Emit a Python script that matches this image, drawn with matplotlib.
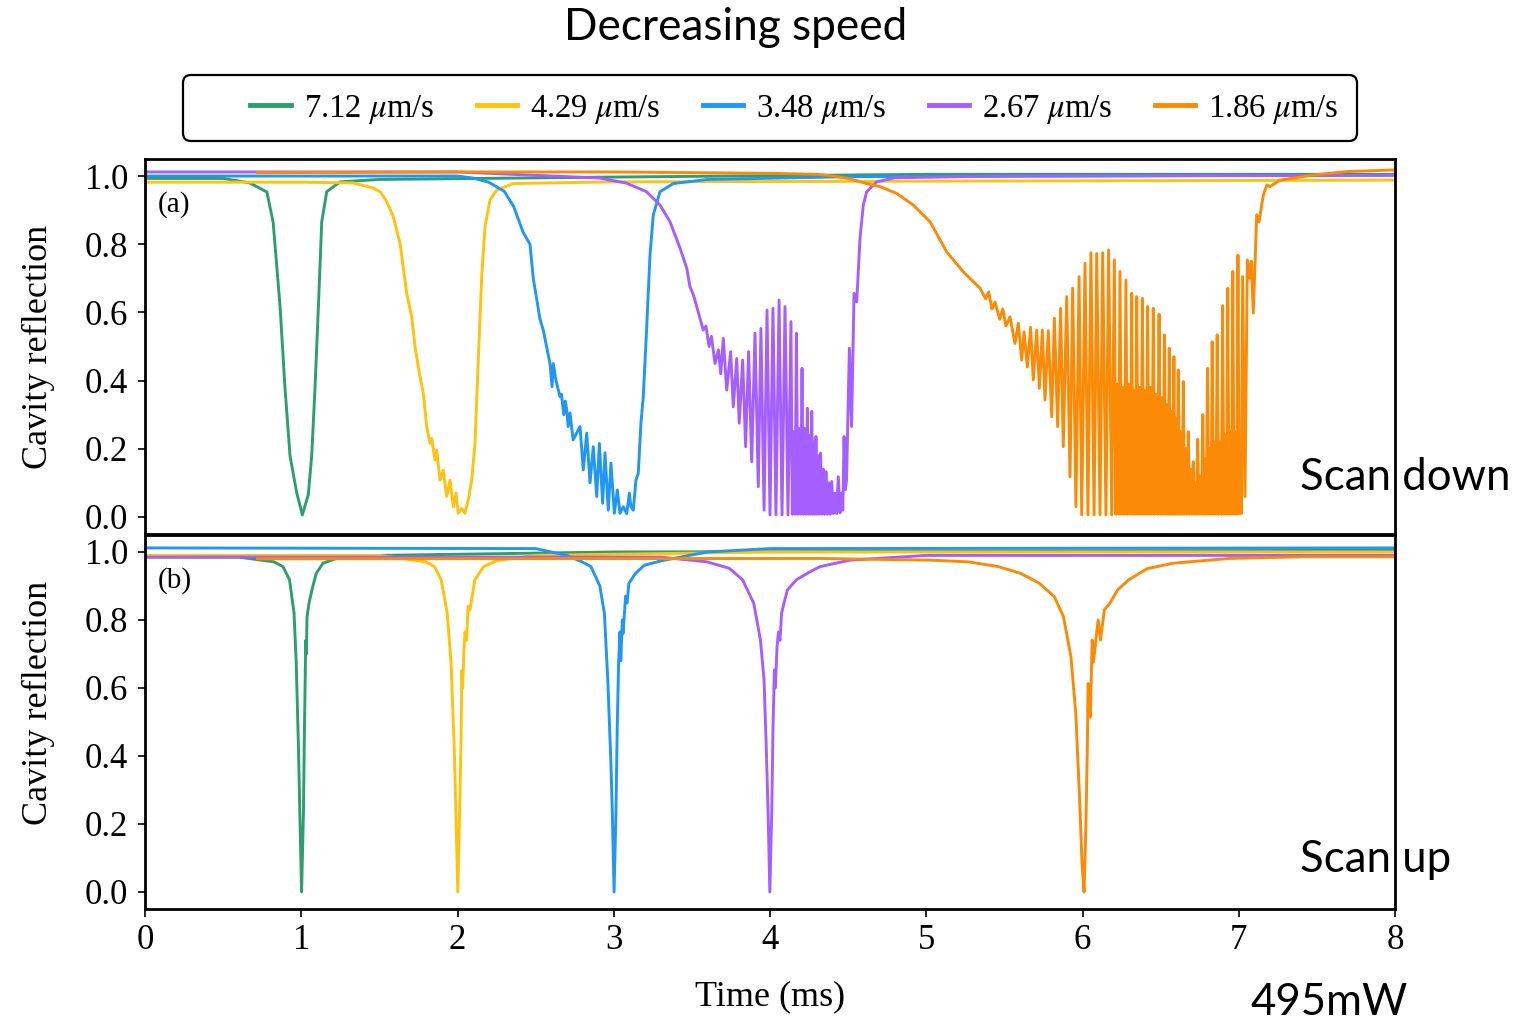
import matplotlib
matplotlib.use('Agg')
import matplotlib.pyplot as plt
from matplotlib.lines import Line2D
from matplotlib.patches import FancyBboxPatch
from matplotlib.transforms import IdentityTransform

plt.rcParams['mathtext.fontset'] = 'stix'
SERIF = 'Liberation Serif'
SANS = 'Lato'

# ---------------- data ----------------
speeds = ['7.12', '4.29', '3.48', '2.67', '1.86']
colors = ['#2E9E6E', '#FFC20E', '#2196F3', '#A55EFF', '#FB8A07']
x_ticks = [0, 1, 2, 3, 4, 5, 6, 7, 8]
y_ticks = [0.0, 0.2, 0.4, 0.6, 0.8, 1.0]
y_tick_labels = ['0.0', '0.2', '0.4', '0.6', '0.8', '1.0']

# ---- (a) scan down ----
down_green_t = [0, 0.5, 0.67, 0.78, 0.82, 0.864, 0.896, 0.928, 0.97, 1.007, 1.045, 1.067, 1.088, 1.11,
                1.131, 1.163, 1.248, 1.5, 3.0, 5.0, 8.0]
down_green_y = [0.993, 0.993, 0.98, 0.953, 0.865, 0.62, 0.378, 0.18, 0.073, 0.006, 0.065, 0.18, 0.378, 0.62,
                0.865, 0.954, 0.983, 0.99, 0.997, 1.005, 1.005]

down_yellow_t = [0, 1.0, 1.33, 1.46, 1.504, 1.547, 1.589, 1.632, 1.675, 1.707, 1.728, 1.76, 1.781, 1.803,
                 1.824, 1.835, 1.856, 1.867, 1.888, 1.909, 1.931, 1.952, 1.973, 1.99, 2.005, 2.027, 2.048,
                 2.069, 2.091, 2.112, 2.133, 2.155, 2.176, 2.208, 2.251, 2.357, 3.0, 8.0]
down_yellow_y = [0.982, 0.982, 0.98, 0.965, 0.954, 0.925, 0.881, 0.803, 0.656, 0.587, 0.5, 0.411, 0.363, 0.265,
                 0.216, 0.23, 0.167, 0.196, 0.108, 0.137, 0.06, 0.108, 0.03, 0.07, 0.011, 0.025, 0.011,
                 0.05, 0.108, 0.216, 0.46, 0.705, 0.851, 0.93, 0.959, 0.978, 0.983, 0.988]

down_blue_t = [0, 1.0, 2.0, 2.1, 2.2, 2.3, 2.36, 2.42, 2.464, 2.485, 2.528, 2.549, 2.57, 2.592, 2.605, 2.613,
               2.63, 2.656, 2.665, 2.68, 2.69, 2.699, 2.708, 2.72, 2.74, 2.784, 2.805, 2.827, 2.848, 2.869,
               2.891, 2.908, 2.929, 2.944, 2.965, 2.982, 3.004, 3.023, 3.04, 3.061, 3.083, 3.10, 3.11, 3.125,
               3.142, 3.157, 3.174, 3.189, 3.21, 3.232, 3.253, 3.296, 3.381, 3.6, 4.5, 8.0]
down_blue_y = [1.0, 1.0, 1.0, 0.994, 0.982, 0.955, 0.91, 0.835, 0.80, 0.70, 0.58, 0.548, 0.50, 0.45, 0.382, 0.45,
               0.40, 0.353, 0.36, 0.30, 0.34, 0.314, 0.265, 0.305, 0.226, 0.265, 0.138, 0.246, 0.10, 0.206,
               0.06, 0.216, 0.04, 0.188, 0.02, 0.158, 0.011, 0.079, 0.011, 0.03, 0.01, 0.07, 0.03, 0.02,
               0.108, 0.128, 0.275, 0.353, 0.548, 0.768, 0.886, 0.954, 0.978, 0.99, 0.998, 1.003]

down_purple_t = [0, 2.0, 2.912, 3.083, 3.21, 3.296, 3.36, 3.424, 3.467, 3.488, 3.51, 3.531, 3.573, 3.59, 3.61,
                 3.625, 3.648, 3.67, 3.685, 3.701, 3.723, 3.748, 3.765, 3.787, 3.803, 3.825, 3.844, 3.863,
                 3.883, 3.904, 3.925, 3.942, 3.962, 3.981, 4.0, 4.019, 4.038, 4.058, 4.077, 4.096, 4.115,
                 4.134, 4.143, 4.152, 4.160,
                 4.169, 4.178, 4.187, 4.196,
                 4.205, 4.213, 4.222, 4.230,
                 4.239, 4.246, 4.253, 4.260,
                 4.267, 4.274, 4.280, 4.287,
                 4.294, 4.301, 4.309, 4.316,
                 4.324, 4.332, 4.341, 4.350,
                 4.358, 4.367, 4.376, 4.386,
                 4.395, 4.405, 4.416, 4.426,
                 4.437, 4.448, 4.459, 4.466, 4.474, 4.482, 4.49, 4.508, 4.522, 4.538, 4.555, 4.576, 4.597,
                 4.619, 4.683, 4.8, 5.5, 8.0]
down_purple_y = [1.012, 1.012, 0.994, 0.979, 0.954, 0.915, 0.866, 0.789, 0.73, 0.675, 0.651, 0.617, 0.548, 0.56, 0.50,
                 0.53, 0.45, 0.49, 0.42, 0.524, 0.372, 0.485, 0.323, 0.465, 0.275, 0.46, 0.206, 0.485,
                 0.162, 0.539, 0.089, 0.553, 0.02, 0.607, 0.006, 0.612, 0.006, 0.636, 0.006, 0.617, 0.006,
                 0.573, 0.008, 0.25, 0.008,
                 0.539, 0.008, 0.26, 0.008,
                 0.436, 0.008, 0.26, 0.008,
                 0.319, 0.008, 0.24, 0.008,
                 0.310, 0.008, 0.22, 0.008,
                 0.236, 0.008, 0.18, 0.008,
                 0.187, 0.008, 0.14, 0.008,
                 0.133, 0.008, 0.10, 0.008,
                 0.104, 0.010, 0.07, 0.010,
                 0.118, 0.012, 0.07, 0.02, 0.236, 0.08, 0.109, 0.495, 0.265, 0.656, 0.631, 0.817, 0.915,
                 0.954, 0.983, 0.995, 1.0, 1.002]

down_orange_t = [0.72, 2.0, 3.0, 4.0, 4.3, 4.405, 4.5, 4.619, 4.704, 4.811, 4.917, 5.024, 5.13, 5.237, 5.344,
                 5.38, 5.40, 5.42, 5.44, 5.47, 5.49, 5.51,
                 5.536, 5.568, 5.589, 5.611, 5.626, 5.647, 5.668, 5.685, 5.707, 5.724, 5.743, 5.76, 5.781,
                 5.803, 5.82, 5.841, 5.86, 5.877, 5.899, 5.92, 5.937, 5.958, 5.978, 5.995, 6.016, 6.035,
                 6.054, 6.074, 6.091, 6.112, 6.129, 6.15, 6.167, 6.187,
                 6.204, 6.213, 6.222, 6.231,
                 6.240, 6.250, 6.259, 6.268,
                 6.278, 6.287, 6.296, 6.306,
                 6.315, 6.323, 6.331, 6.339,
                 6.347, 6.356, 6.365, 6.374,
                 6.383, 6.392, 6.400, 6.408,
                 6.417, 6.426, 6.435, 6.444,
                 6.453, 6.462, 6.471, 6.480,
                 6.490, 6.498, 6.507, 6.515,
                 6.524, 6.532, 6.540, 6.547,
                 6.555, 6.563, 6.570, 6.578,
                 6.585, 6.592, 6.599, 6.606,
                 6.613, 6.621, 6.629, 6.637,
                 6.645, 6.653, 6.661, 6.669,
                 6.677, 6.685, 6.693, 6.701,
                 6.709, 6.716, 6.723, 6.730,
                 6.737, 6.745, 6.754, 6.762,
                 6.770, 6.778, 6.785, 6.793,
                 6.800, 6.808, 6.815, 6.823,
                 6.830, 6.838, 6.846, 6.854,
                 6.862, 6.871, 6.880, 6.888,
                 6.897, 6.905, 6.914, 6.922,
                 6.930, 6.938, 6.946, 6.954,
                 6.962, 6.970, 6.979, 6.987,
                 6.995, 7.003, 7.010, 7.017,
                 7.025, 7.040, 7.055, 7.070, 7.080, 7.093, 7.115, 7.13, 7.157, 7.18, 7.2, 7.264, 7.477,
                 7.69, 8.0]
down_orange_y = [1.01, 1.012, 1.012, 1.008, 1.005, 1.0, 0.993, 0.978, 0.969, 0.949, 0.915, 0.866, 0.778, 0.719, 0.671,
                 0.64, 0.66, 0.61, 0.63, 0.58, 0.61, 0.56,
                 0.587, 0.509, 0.568, 0.46, 0.543, 0.44, 0.556, 0.402, 0.548, 0.377, 0.548, 0.343, 0.546,
                 0.294, 0.583, 0.265, 0.612, 0.206, 0.646, 0.118, 0.671, 0.03, 0.705, 0.006, 0.744, 0.006,
                 0.775, 0.006, 0.773, 0.006, 0.775, 0.006, 0.783, 0.006,
                 0.754, 0.008, 0.39, 0.008,
                 0.720, 0.008, 0.38, 0.008,
                 0.695, 0.008, 0.39, 0.008,
                 0.656, 0.008, 0.37, 0.008,
                 0.646, 0.008, 0.38, 0.008,
                 0.641, 0.008, 0.37, 0.008,
                 0.617, 0.008, 0.38, 0.008,
                 0.612, 0.008, 0.36, 0.008,
                 0.595, 0.008, 0.35, 0.008,
                 0.534, 0.008, 0.33, 0.008,
                 0.495, 0.008, 0.31, 0.008,
                 0.470, 0.008, 0.29, 0.008,
                 0.431, 0.008, 0.25, 0.008,
                 0.397, 0.008, 0.20, 0.008,
                 0.250, 0.008, 0.14, 0.008,
                 0.162, 0.008, 0.10, 0.008,
                 0.228, 0.008, 0.12, 0.008,
                 0.300, 0.008, 0.17, 0.008,
                 0.436, 0.008, 0.20, 0.008,
                 0.514, 0.008, 0.22, 0.008,
                 0.534, 0.008, 0.22, 0.008,
                 0.620, 0.008, 0.24, 0.008,
                 0.671, 0.008, 0.25, 0.008,
                 0.720, 0.008, 0.25, 0.008,
                 0.768, 0.010, 0.22, 0.010,
                 0.705, 0.060, 0.754, 0.70, 0.75, 0.598, 0.886, 0.866, 0.944, 0.974, 0.969, 0.988, 1.003,
                 1.013, 1.018]

# ---- (b) scan up ----
up_green_t = [0, 0.6, 0.825, 0.883, 0.925, 0.954, 0.968, 0.982, 0.991, 1.002, 1.014, 1.019, 1.025, 1.029,
              1.033, 1.037, 1.05, 1.068, 1.096, 1.139, 1.225, 1.5, 3.0, 8.0]
up_green_y = [0.985, 0.985, 0.971, 0.957, 0.918, 0.82, 0.672, 0.427, 0.231, 0.0, 0.231, 0.427, 0.623, 0.74,
              0.70, 0.81, 0.85, 0.888, 0.937, 0.967, 0.981, 0.99, 1.0, 1.005]

up_yellow_t = [0, 1.5, 1.796, 1.853, 1.896, 1.934, 1.959, 1.979, 1.99, 2.002, 2.013, 2.022, 2.028, 2.033,
               2.04, 2.048, 2.058, 2.068, 2.08, 2.111, 2.168, 2.253, 2.5, 4.0, 8.0]
up_yellow_y = [0.99, 0.99, 0.971, 0.957, 0.918, 0.82, 0.672, 0.427, 0.231, 0.0, 0.231, 0.427, 0.652, 0.60,
               0.70, 0.765, 0.74, 0.84, 0.83, 0.918, 0.957, 0.975, 0.99, 1.0, 1.0]

up_blue_t = [0, 2.5, 2.7, 2.796, 2.854, 2.911, 2.94, 2.962, 2.982, 2.991, 3.002, 3.014, 3.022, 3.031, 3.040,
             3.045, 3.055, 3.059, 3.076, 3.085, 3.097, 3.139, 3.196, 3.311, 3.6, 4.0, 8.0]
up_blue_y = [1.012, 1.01, 0.99, 0.971, 0.957, 0.9, 0.82, 0.623, 0.378, 0.231, 0.0, 0.231, 0.476, 0.672, 0.765,
             0.68, 0.80, 0.76, 0.87, 0.85, 0.908, 0.937, 0.961, 0.975, 1.0, 1.01, 1.012]

up_purple_t = [0, 3.3, 3.597, 3.74, 3.825, 3.896, 3.939, 3.962, 3.976, 3.988, 3.999, 4.011, 4.019, 4.028,
               4.034, 4.045, 4.054, 4.064, 4.074, 4.09, 4.111, 4.168, 4.253, 4.32, 4.51, 5.0, 8.0]
up_purple_y = [0.985, 0.985, 0.971, 0.952, 0.918, 0.849, 0.741, 0.623, 0.427, 0.231, 0.0, 0.231, 0.476, 0.653,
               0.60, 0.72, 0.765, 0.74, 0.82, 0.85, 0.888, 0.918, 0.941, 0.957, 0.976, 0.99, 0.99]

up_orange_t = [0.72, 4.32, 5.033, 5.27, 5.462, 5.605, 5.724, 5.819, 5.878, 5.926, 5.957, 5.981, 5.997, 6.01,
               6.021, 6.031, 6.036, 6.045, 6.05, 6.062, 6.07, 6.1, 6.115, 6.14, 6.176, 6.224, 6.295, 6.414,
               6.58, 6.938, 7.413, 8.0]
up_orange_y = [0.98, 0.981, 0.976, 0.971, 0.957, 0.937, 0.908, 0.869, 0.81, 0.692, 0.525, 0.28, 0.084, 0.0,
               0.18, 0.427, 0.613, 0.559, 0.514, 0.741, 0.676, 0.8, 0.741, 0.83, 0.85, 0.888, 0.918, 0.951,
               0.967, 0.981, 0.986, 0.986]

down_series = [(down_green_t, down_green_y), (down_yellow_t, down_yellow_y), (down_blue_t, down_blue_y),
               (down_purple_t, down_purple_y), (down_orange_t, down_orange_y)]
up_series = [(up_green_t, up_green_y), (up_yellow_t, up_yellow_y), (up_blue_t, up_blue_y),
             (up_purple_t, up_purple_y), (up_orange_t, up_orange_y)]

# ---------------- figure ----------------
W, H = 1517, 1026
fig = plt.figure(figsize=(W / 100, H / 100), dpi=100)
ax1 = fig.add_axes([145 / W, (H - 534) / H, 1250 / W, 375 / H])
ax2 = fig.add_axes([145 / W, (H - 909) / H, 1250 / W, 374 / H])

for ax, series in ((ax1, down_series), (ax2, up_series)):
    for (t, y), c in zip(series, colors):
        ax.plot(t, y, color=c, lw=2.1, solid_joinstyle='round')
    ax.set_xlim(0, 8)
    ax.set_ylim(-0.05, 1.05)
    ax.set_yticks(y_ticks)
    ax.set_yticklabels(y_tick_labels, family=SERIF, fontsize=25)
    ax.tick_params(axis='y', direction='out', length=5, width=1.2, pad=7)
    for s in ax.spines.values():
        s.set_linewidth(2.0)
    ax.set_ylabel('Cavity reflection', family=SERIF, fontsize=26)

ax1.yaxis.set_label_coords(-0.072, 0.5)
ax2.yaxis.set_label_coords(-0.072, 0.551)

ax1.set_xticks([])
ax2.set_xticks(x_ticks)
ax2.set_xticklabels([str(v) for v in x_ticks], family=SERIF, fontsize=25)
ax2.tick_params(axis='x', direction='out', length=6, width=1.2, pad=5)
ax2.set_xlabel('Time (ms)', family=SERIF, fontsize=26)
ax2.xaxis.set_label_coords(0.5, -0.19)

ax1.text(0.083, 0.915, '(a)', family=SERIF, fontsize=21, va='center', ha='left')
ax2.text(0.083, 0.915, '(b)', family=SERIF, fontsize=21, va='center', ha='left')

ax1.text(7.392, 0.08, 'Scan down', family=SANS, fontsize=31.5, va='baseline', ha='left', clip_on=False)
ax2.text(7.392, 0.059, 'Scan up', family=SANS, fontsize=31.5, va='baseline', ha='left', clip_on=False)

fig.text(736 / W, (H - 28) / H, 'Decreasing speed', family=SANS, fontsize=31.8, ha='center', va='center')
fig.text(1250 / W, 11 / H, '495mW', family=SANS, fontsize=31.5, ha='left', va='baseline')

# legend
frame = FancyBboxPatch((183, H - 141), 1174, 66, boxstyle='round,pad=0,rounding_size=8',
                       transform=IdentityTransform(), fill=False, lw=1.6, ec='black')
fig.add_artist(frame)
handles = [Line2D([], [], color=c, lw=3.5) for c in colors]
labels = [s + r' $\mu$m/s' for s in speeds]
fig.legend(handles, labels, loc='center', bbox_to_anchor=(794.5 / W, (H - 109) / H), ncol=5,
           frameon=False, prop={'family': SERIF, 'size': 23.5}, handlelength=1.23, handletextpad=0.4,
           columnspacing=1.3)

fig.savefig('out.png', dpi=100)
